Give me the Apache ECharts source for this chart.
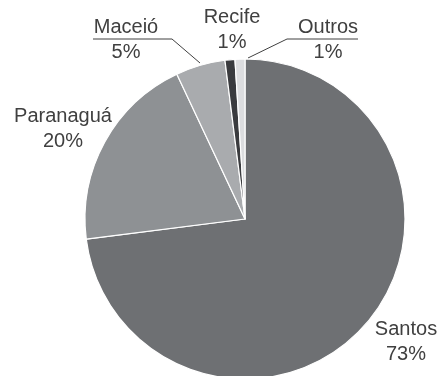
<!DOCTYPE html>
<html>
<head>
<meta charset="utf-8">
<script src="https://cdn.jsdelivr.net/npm/echarts@6/dist/echarts.min.js"></script>
<style>
	html, body { margin: 0; padding: 0; background: #fff; }
	#chart { width: 441px; height: 376px; }
</style>
</head>
<body>
<div id="chart"></div>
<script>
//portos e participação (%)
var portos = ['Santos', 'Paranaguá', 'Maceió', 'Recife', 'Outros'];
var participacao = [73, 20, 5, 1, 1];
var cores = ['#6e7073', '#8e9194', '#a9abae', '#3a3b3e', '#dcdddf'];

//posição dos rótulos (centro do texto) e linhas-guia
var rotulos = [
	{ x: 406, y: 342 },
	{ x: 63, y: 129 },
	{ x: 126, y: 40, linha: [[200, 63], [172, 39], [93, 39]] },
	{ x: 232, y: 30 },
	{ x: 328, y: 40, linha: [[248, 58], [287, 39], [358, 39]] }
];

var chart = echarts.init(document.getElementById('chart'));

var dados = [];
for(var i = 0; i < portos.length; i++) {
	dados.push({
		name: portos[i],
		value: participacao[i],
		itemStyle: { color: cores[i] },
		labelLine: { show: !!rotulos[i].linha }
	});
}

chart.setOption({
	animation: false,
	series: [{
		type: 'pie',
		center: [245, 219],
		radius: [0, 160],
		startAngle: 90,
		clockwise: true,
		avoidLabelOverlap: false,
		data: dados,
		itemStyle: {
			borderColor: '#fff',
			borderWidth: 1.2
		},
		label: {
			show: true,
			formatter: '{b}\n{c}%',
			fontFamily: 'Liberation Sans',
			fontSize: 20,
			lineHeight: 25,
			color: '#404040',
			align: 'center'
		},
		labelLine: {
			lineStyle: { color: '#404040', width: 1 }
		},
		labelLayout: function(params) {
			var r = rotulos[params.dataIndex];
			var res = {
				x: r.x,
				y: r.y,
				align: 'center',
				verticalAlign: 'middle'
			};
			if(r.linha) {
				res.labelLinePoints = r.linha;
			}
			return res;
		}
	}]
});
</script>
</body>
</html>
